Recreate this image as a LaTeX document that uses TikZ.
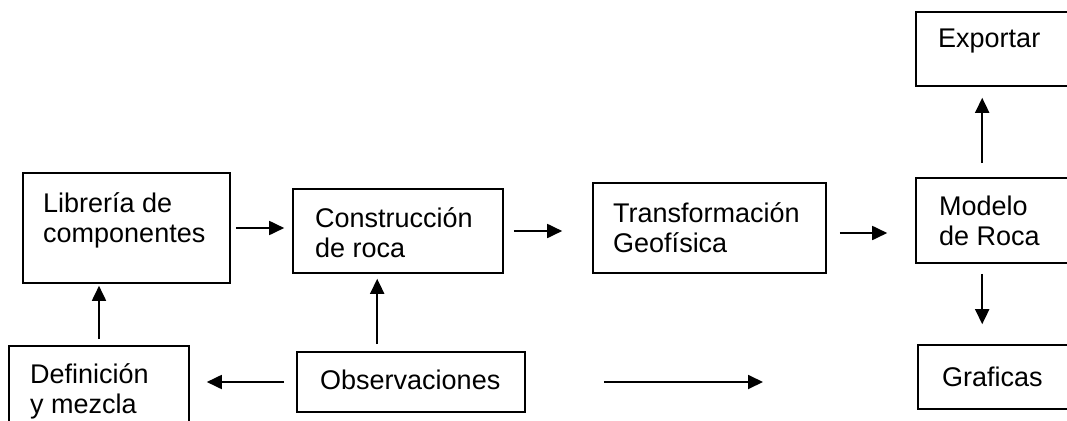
\documentclass[tikz,border=0pt]{standalone}
\usepackage{fontspec}
\setmainfont{Liberation Sans}
\usetikzlibrary{arrows.meta}

\begin{document}
\begin{tikzpicture}[x=1pt,y=-1pt]
\tikzstyle{every node}+=[inner sep=0pt]
\tikzstyle{caja}=[draw=black,line width=1.6pt]
\tikzstyle{texto}=[anchor=base west,align=left,font=\fontsize{27}{30}\selectfont]
\tikzstyle{flecha}=[black,line width=1.8pt,-{Triangle[length=15pt,width=14pt]}]
\useasboundingbox (0,0) rectangle (1067,420);
\clip (0,0) rectangle (1067,420);
% cajas
\node [caja,minimum width=207pt,minimum height=110pt] (lib) at (126.5,228) {};
\node [caja,minimum width=210pt,minimum height=84pt] (constr) at (398,231) {};
\node [caja,minimum width=233pt,minimum height=90pt] (trans) at (709.5,228) {};
\node [caja,minimum width=200pt,minimum height=74pt] (export) at (1016,49) {};
\node [caja,minimum width=200pt,minimum height=85pt] (modelo) at (1016,220.5) {};
\node [caja,minimum width=200pt,minimum height=64pt] (graf) at (1018,377) {};
\node [caja,minimum width=228pt,minimum height=60pt] (obs) at (411,382) {};
\node [caja,minimum width=180pt,minimum height=104pt] (def) at (99,398) {};
% textos (base = ultima linea)
\node [texto] (lib-t) at (43,242) {Librería de\\componentes};
\node [texto] (constr-t) at (315,257) {Construcción\\de roca};
\node [texto] (trans-t) at (613,252) {Transformación\\Geofísica};
\node [texto] (export-t) at (938,48) {Exportar};
\node [texto] (modelo-t) at (939,245) {Modelo\\de Roca};
\node [texto] (graf-t) at (942,386) {Graficas};
\node [texto] (obs-t) at (320,389) {Observaciones};
\node [texto] (def-t) at (30,413) {Definición\\y mezcla};
\coordinate (libre) at (763,382);
% flechas
\draw [flecha,shorten <=5pt,shorten >=8pt] (lib.east) -- (lib.east -| constr.west);
\draw [flecha,shorten <=10pt,shorten >=30pt] (constr.east) -- (constr.east -| trans.west);
\draw [flecha,shorten <=13pt,shorten >=28pt] ([yshift=-5pt]trans.east) -- ([yshift=-5pt]trans.east -| modelo.west);
\draw [flecha,shorten <=14pt,shorten >=11pt] ([xshift=67pt]modelo.north west) -- ([xshift=67pt]modelo.north west |- export.south);
\draw [flecha,shorten <=10pt,shorten >=20pt] ([xshift=67pt]modelo.south west) -- ([xshift=67pt]modelo.south west |- graf.north);
\draw [flecha,shorten <=6pt,shorten >=2pt] (def.north) -- (def.north |- lib.south);
\draw [flecha,shorten <=7pt,shorten >=5pt] ([xshift=81pt]obs.north west) -- ([xshift=81pt]obs.north west |- constr.south);
\draw [flecha,shorten <=12pt,shorten >=17pt] (obs.west) -- (obs.west -| def.east);
\draw [flecha,shorten <=78pt] (obs.east) -- (libre);
\end{tikzpicture}
\end{document}
